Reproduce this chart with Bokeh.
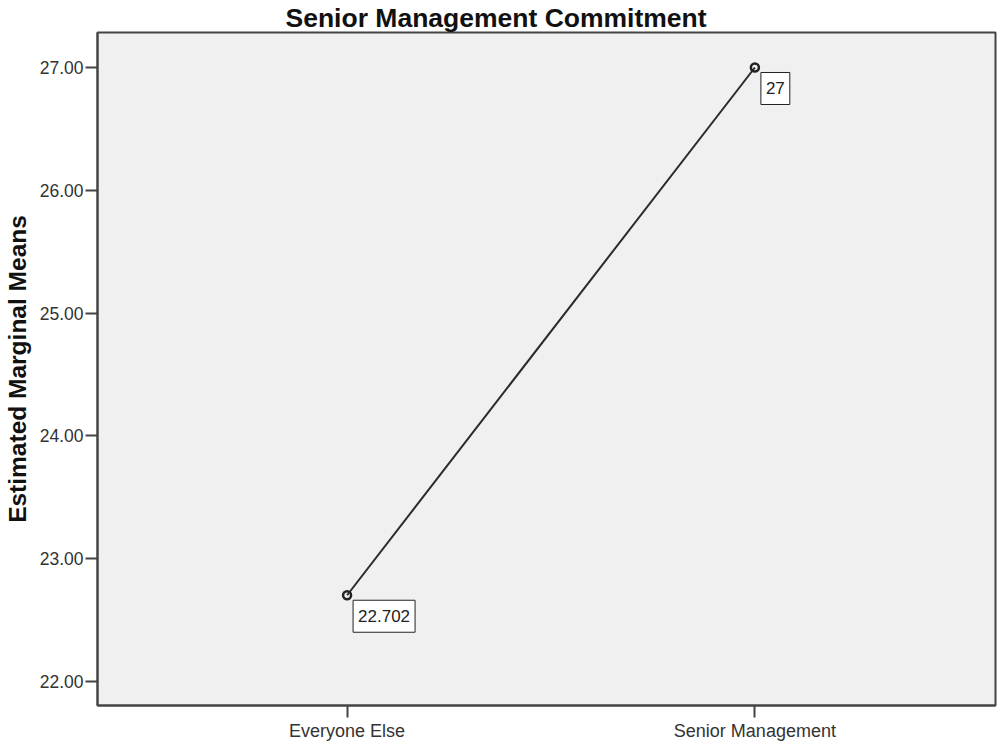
from bokeh.plotting import figure
from bokeh.models import ColumnDataSource, FixedTicker, Range1d
from bokeh.core.properties import value
from bokeh.embed import file_html
from bokeh.resources import INLINE

categories = ["Everyone Else", "Senior Management"]
means = [22.702, 27.0]
mean_labels = ["22.702", "27"]
y_ticks = [22.0, 23.0, 24.0, 25.0, 26.0, 27.0]
y_tick_labels = ["22.00", "23.00", "24.00", "25.00", "26.00", "27.00"]

xpos = list(range(len(categories)))
src = ColumnDataSource(dict(x=xpos, y=means, lab=mean_labels))

FONT = "Liberation Sans"

p = figure(width=997, height=743, output_backend="svg", toolbar_location=None,
           x_range=Range1d(-0.612, 1.59), y_range=Range1d(21.804, 27.285),
           title="Senior Management Commitment")
p.min_border_left = 91
p.min_border_right = 2
p.min_border_top = 0
p.min_border_bottom = 0

p.title.text_font = FONT
p.title.text_font_size = "26.5px"
p.title.text_font_style = "bold"
p.title.text_color = "#111111"
p.title.align = "left"
p.title.offset = 188
p.title.standoff = 0

p.background_fill_color = "#f0f0f0"
p.border_fill_color = "white"
p.outline_line_color = "#444444"
p.outline_line_width = 2
p.grid.visible = False

p.line("x", "y", source=src, line_color="#2a2a2a", line_width=2)
p.scatter("x", "y", source=src, size=8, fill_color=None, line_color="#222222", line_width=2.5)

p.text("x", "y", text="lab", source=src, x_offset=6, y_offset=5,
       text_align="left", text_baseline="top", text_font=value(FONT), text_font_size="17px",
       text_color="#222222", background_fill_color="white", border_line_color="#222222",
       border_line_width=1, padding=dict(left=5, right=5, top=10, bottom=10))

ya = p.yaxis[0]
ya.ticker = FixedTicker(ticks=y_ticks)
ya.major_label_overrides = {t: l for t, l in zip(y_ticks, y_tick_labels)}
ya.axis_label = "Estimated Marginal Means"
ya.axis_label_text_font = FONT
ya.axis_label_text_font_size = "24.5px"
ya.axis_label_text_font_style = "bold"
ya.axis_label_text_color = "#111111"
ya.axis_label_standoff = 6
ya.major_label_standoff = 2
ya.major_label_text_font_size = "17.5px"

xa = p.xaxis[0]
xa.ticker = FixedTicker(ticks=xpos)
xa.major_label_overrides = {i: c for i, c in zip(xpos, categories)}
xa.major_label_standoff = 3
xa.major_label_text_font_size = "18px"

for ax in (xa, ya):
    ax.axis_line_color = "#444444"
    ax.axis_line_width = 2
    ax.major_tick_line_color = "#444444"
    ax.major_tick_line_width = 2
    ax.major_tick_out = 12
    ax.major_tick_in = 0
    ax.minor_tick_line_color = None
    ax.major_label_text_font = FONT
    ax.major_label_text_color = "#333333"

open("out.html", "w").write(file_html(p, INLINE))
